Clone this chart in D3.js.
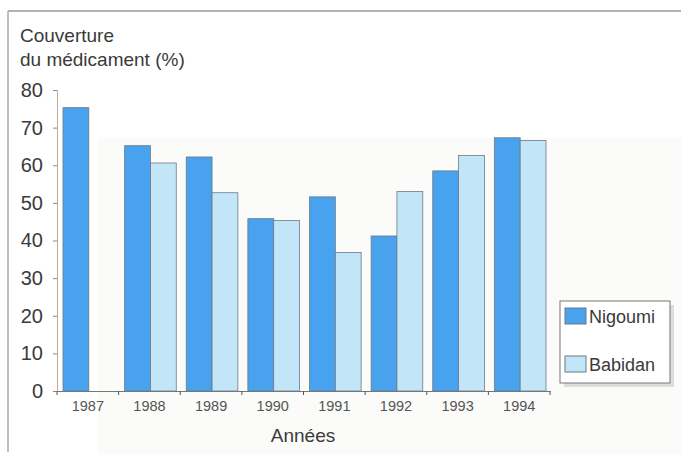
<!DOCTYPE html>
<html lang="fr">
<head>
<meta charset="UTF-8">
<title>Couverture du médicament</title>
<style>
  body { margin: 0; background: #fff; }
  svg { display: block; font-family: "Liberation Sans", Arial, sans-serif; }
</style>
</head>
<body>
<svg width="681" height="455"></svg>
<script src="https://cdn.jsdelivr.net/npm/d3@7/dist/d3.min.js"></script>
<script>
var years = ['1987', '1988', '1989', '1990', '1991', '1992', '1993', '1994']
var seriesNames = ['Nigoumi', 'Babidan']
var nigoumi = [75.3, 65.2, 62.2, 45.8, 51.6, 41.2, 58.5, 67.3]
var babidan = [0, 60.6, 52.7, 45.3, 36.8, 53, 62.6, 66.6]
var yTicks = [0, 10, 20, 30, 40, 50, 60, 70, 80]

var colors = ['#48a2ee', '#c3e5f8']

var svg = d3.select('svg')

// cadre (scan)
svg.append('rect').attr('x', 97).attr('y', 137).attr('width', 584).attr('height', 318).attr('fill', '#fbfbf9')
svg.append('line').attr('x1', 8).attr('y1', 11).attr('x2', 681).attr('y2', 11)
    .attr('stroke', '#999').attr('stroke-width', 1.5)
svg.append('line').attr('x1', 8).attr('y1', 11).attr('x2', 8).attr('y2', 452)
    .attr('stroke', '#aaa').attr('stroke-width', 1.5)

var x0 = 57, x1 = 550, yBase = 391, yTop = 90

var x = d3.scaleBand().domain(years).range([x0, x1]).paddingInner(0).paddingOuter(0)
var xs = d3.scaleBand().domain(seriesNames).range([6, x.bandwidth() - 4])
var y = d3.scaleLinear().domain([0, 80]).range([yBase, yTop])

// axe Y
var yAxis = svg.append('g').attr('transform', 'translate(' + x0 + ',0)')
    .call(d3.axisLeft(y).tickValues(yTicks).tickSize(4).tickPadding(10))
yAxis.select('.domain').attr('stroke', '#c9a7a0')
yAxis.selectAll('.tick line').attr('stroke', '#888')
yAxis.selectAll('.tick text').attr('font-size', 20).attr('fill', '#3a3a3a')

// axe X
var xAxis = svg.append('g').attr('transform', 'translate(0,' + yBase + ')')
    .call(d3.axisBottom(x).tickSize(0).tickPadding(10))
xAxis.select('.domain').attr('stroke', '#777')
xAxis.selectAll('.tick text').attr('font-size', 14.5).attr('fill', '#555')
svg.append('g').selectAll('line')
    .data(years.concat(['end']))
    .enter().append('line')
    .attr('x1', function (d, i) { return x0 + i * x.bandwidth() })
    .attr('x2', function (d, i) { return x0 + i * x.bandwidth() })
    .attr('y1', yBase).attr('y2', yBase + 4)
    .attr('stroke', '#555')

// barres
var rows = years.map(function (yr, i) { return { year: yr, values: [nigoumi[i], babidan[i]] } })
var groups = svg.append('g').selectAll('g')
    .data(rows).enter().append('g')
    .attr('transform', function (d) { return 'translate(' + x(d.year) + ',0)' })
groups.selectAll('rect')
    .data(function (d) { return d.values.map(function (v, i) { return { name: seriesNames[i], v: v, i: i } }) })
    .enter().append('rect')
    .filter(function (d) { return d.v > 0 })
    .attr('x', function (d) { return xs(d.name) })
    .attr('width', xs.bandwidth())
    .attr('y', function (d) { return y(d.v) })
    .attr('height', function (d) { return yBase - y(d.v) })
    .attr('fill', function (d) { return colors[d.i] })
    .attr('stroke', '#6b7a86').attr('stroke-width', 0.8)

// titres
svg.append('text').attr('x', 20).attr('y', 42).attr('font-size', 19).attr('fill', '#3a3a3a').text('Couverture')
svg.append('text').attr('x', 20).attr('y', 66).attr('font-size', 19).attr('fill', '#3a3a3a').text('du médicament (%)')
svg.append('text').attr('x', 303).attr('y', 442).attr('text-anchor', 'middle')
    .attr('font-size', 19).attr('fill', '#3a3a3a').text('Années')

// légende
var leg = svg.append('g').attr('transform', 'translate(560,301)')
leg.append('rect').attr('x', 4).attr('y', 4).attr('width', 110).attr('height', 82).attr('fill', '#ddd')
leg.append('rect').attr('width', 110).attr('height', 82).attr('fill', '#fff').attr('stroke', '#777')
var items = leg.selectAll('.item').data(seriesNames).enter().append('g')
    .attr('transform', function (d, i) { return 'translate(5,' + (7 + i * 48) + ')' })
items.append('rect').attr('width', 21).attr('height', 16)
    .attr('fill', function (d, i) { return colors[i] }).attr('stroke', '#6b7a86')
items.append('text').attr('x', 24).attr('y', 15).attr('font-size', 18).attr('fill', '#3a3a3a')
    .text(function (d) { return d })
</script>
</body>
</html>
